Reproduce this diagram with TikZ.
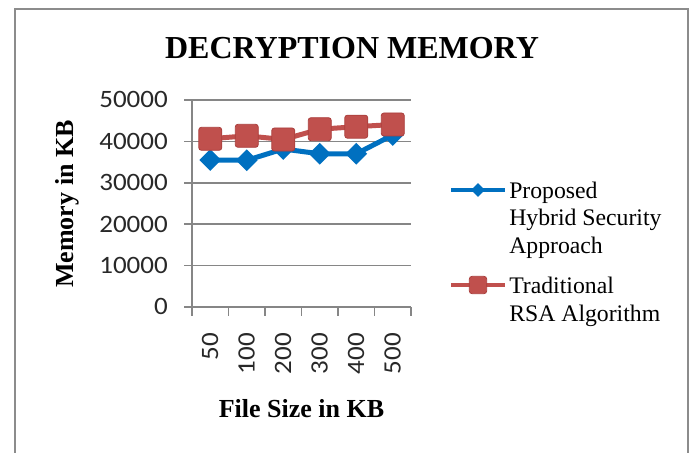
\documentclass[tikz,border=0pt]{standalone}
\usepackage{fontspec}
\setmainfont{Liberation Serif}
\newfontfamily\tickfont{Carlito}[FakeStretch=1.08]
\usetikzlibrary{shapes.geometric}
\definecolor{seriesblue}{RGB}{0,112,192}
\definecolor{seriesred}{RGB}{192,80,77}
\definecolor{seriesredline}{RGB}{170,62,60}
\definecolor{gridgray}{RGB}{134,134,134}
\definecolor{framegray}{RGB}{140,140,140}
\definecolor{ticktext}{RGB}{40,40,40}

\begin{document}
\begin{tikzpicture}[x=0.75pt,y=-0.75pt,
  gridline/.style={draw=gridgray,line width=1.1pt},
  ticklabel/.style={font=\tickfont\fontsize{18.75}{20}\selectfont,text=ticktext,inner sep=0pt},
  axistitle/.style={font=\bfseries\fontsize{19.5}{22}\selectfont,inner sep=0pt},
  legendtext/.style={font=\fontsize{17.8}{20.6}\selectfont,inner sep=0pt,align=left,anchor=base west},
  blueline/.style={draw=seriesblue,line width=3.75pt,line join=round},
  redline/.style={draw=seriesred,line width=3.75pt,line join=round},
  bluemark/.style={diamond,aspect=1,fill=seriesblue,inner sep=0pt,minimum size=16.5pt},
  redmark/.style={rectangle,fill=seriesred,draw=seriesredline,line width=0.6pt,rounded corners=2pt,inner sep=0pt,minimum size=17.25pt},
  legbluemark/.style={bluemark,minimum size=10.5pt},
  legredmark/.style={redmark,minimum size=13pt}]
\useasboundingbox (0,0) rectangle (693,453);

% chart frame (open at the bottom)
\draw[draw=framegray,line width=1.5pt] (15,453) -- (15,9) -- (688,9) -- (688,453);

% title
\node[font=\bfseries\fontsize{24}{28}\selectfont,inner sep=0pt,anchor=base] (title) at (352,59) {DECRYPTION MEMORY};

% horizontal gridlines, y ticks and value labels
\foreach \val [count=\i from 0] in {0,10000,20000,30000,40000,50000}{
  \pgfmathsetmacro\yy{307-41.4*\i}
  \draw[gridline] (184,\yy) -- (411,\yy);
  \node[ticklabel,anchor=base east] (ylab\i) at (168,\yy+7.9) {\val};
}
% value axis
\draw[gridline] (192,100) -- (192,307);
% category ticks
\foreach \i in {0,...,6}{
  \draw[gridline] (192+36.5*\i,307) -- (192+36.5*\i,316);
}
% category labels
\foreach \c [count=\i from 0] in {50,100,200,300,400,500}{
  \node[ticklabel,rotate=90,anchor=base east] (xlab\i) at (210.25+36.5*\i+7.9,333) {\c};
}

% axis titles
\node[axistitle,rotate=90,anchor=base] (ytitle) at (73,204) {Memory in KB};
\node[axistitle,anchor=base] (xtitle) at (301.5,417) {File Size in KB};

% data points
\coordinate (b1) at (210.25,160);
\coordinate (b2) at (246.75,160.3);
\coordinate (b3) at (283.25,149);
\coordinate (b4) at (319.75,153.8);
\coordinate (b5) at (356.25,153.8);
\coordinate (b6) at (392.75,135);
\coordinate (r1) at (210.25,138.8);
\coordinate (r2) at (246.75,135.8);
\coordinate (r3) at (283.25,139.5);
\coordinate (r4) at (319.75,129.2);
\coordinate (r5) at (356.25,126.7);
\coordinate (r6) at (392.75,124.5);

% proposed hybrid series
\draw[blueline] (b1) -- (b2) -- (b3) -- (b4) -- (b5) -- (b6);
\foreach \k in {1,...,6}{ \node[bluemark] (bm\k) at (b\k) {}; }
% traditional RSA series
\draw[redline] (r1) -- (r2) -- (r3) -- (r4) -- (r5) -- (r6);
\foreach \k in {1,...,6}{ \node[redmark] (rm\k) at (r\k) {}; }

% legend
\coordinate (lb1) at (451,190);
\coordinate (lb2) at (505,190);
\draw[draw=seriesblue,line width=2.6pt] (lb1) -- (lb2);
\node[legbluemark] (lbm) at (478,190) {};
\node[legendtext] (lbt1) at (509,198) {Proposed};
\node[legendtext] (lbt2) at (509,225.5) {Hybrid Security};
\node[legendtext] (lbt3) at (509,253) {Approach};

\coordinate (lr1) at (451,285);
\coordinate (lr2) at (505,285);
\draw[draw=seriesred,line width=2.6pt] (lr1) -- (lr2);
\node[legredmark] (lrm) at (478,285) {};
\node[legendtext] (lrt1) at (509,293) {Traditional};
\node[legendtext] (lrt2) at (509,321) {RSA Algorithm};
\end{tikzpicture}
\end{document}
